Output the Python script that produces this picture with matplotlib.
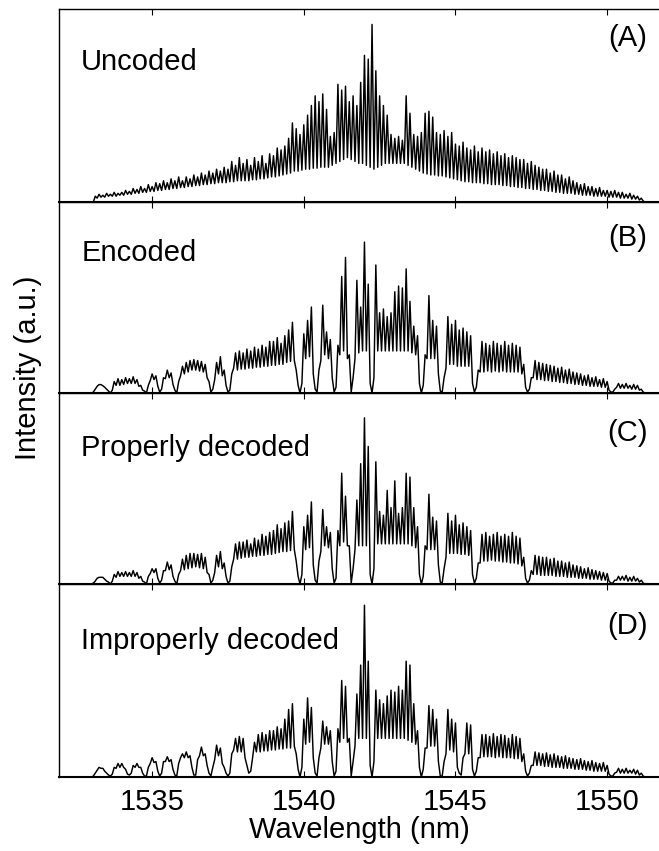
#!/usr/bin/env python3

import matplotlib
matplotlib.use("Agg")
import matplotlib.pyplot as plt
import numpy as np

plt.rcParams["font.family"] = ["Liberation Sans", "DejaVu Sans"]

# comb lines of the spectrum: first line and line spacing (nm)
COMB_START = 1533.0
COMB_STEP = 0.125

XLIM = (1531.93, 1551.71)
XTICKS = [1535, 1540, 1545, 1550]

# every list: one value per comb line (8 per nm), starting at 1533.0 nm
# *_peaks = top of the line, *_floors = level between this line and the next

# (A) uncoded
uncoded_peaks = [
    0, 3, 4, 3.5, 4.5, 4, 5, 4.5,          # 1533
    5, 6, 5.5, 7, 6.5, 8, 7, 9,            # 1534
    8, 10, 9.5, 11, 10, 12, 11, 13,        # 1535
    11, 13, 12, 14, 13, 15, 14, 16,        # 1536
    15, 17, 16, 18, 17, 21, 19, 23,        # 1537
    20, 22, 19, 23, 21, 24, 20, 25,        # 1538
    24, 28, 27, 29, 33, 41, 38, 35,        # 1539
    40, 45, 50, 55, 52, 56, 48, 34,        # 1540
    36, 61, 58, 60, 52, 55, 50, 62,        # 1541
    76, 74, 92, 68, 55, 50, 45, 35,        # 1542
    33, 34, 32, 55, 46, 35, 34, 36,        # 1543
    46, 47, 44, 36, 35, 37, 34, 36,        # 1544
    30, 29, 31, 28, 27, 29, 26, 28,        # 1545
    26, 27, 25, 26, 24, 25, 23, 24,        # 1546
    23, 22, 22, 20, 21, 19, 18, 17,        # 1547
    17, 15, 16, 14, 14, 12, 13, 11,        # 1548
    10, 9, 9.5, 8, 8, 7, 7.5, 6,           # 1549
    6, 5.5, 6, 5, 5, 4, 4.5, 3.5,          # 1550
    3, 2, 0, 0,                            # 1551
]
uncoded_floors = [
    0, 2, 2.5, 2.5, 3, 3, 3, 3.5,
    3.5, 4, 4, 4.5, 4.5, 5, 5, 5.5,
    5.5, 6, 6, 6.5, 6.5, 7, 7, 7.5,
    7.5, 8, 8, 8.5, 8.5, 9, 9, 9.5,
    9.5, 10, 10, 10, 10.5, 10.5, 11, 11,
    11, 11, 11.5, 11.5, 12, 12, 12.5, 13,
    13, 13.5, 14, 14.5, 15, 16, 16, 16.5,
    17, 17, 17.5, 17.5, 18, 18, 18, 19,
    20, 21, 22, 23, 22, 21, 20, 20,
    19, 18, 17, 18, 19, 20, 20, 20,
    20, 20, 20, 19, 18, 17, 16, 15,
    14.5, 14, 14, 13.5, 13.5, 13, 12.5, 12,
    11.5, 11, 10.5, 10.5, 10, 10, 10, 9.5,
    9.5, 9, 9, 9, 8.5, 8.5, 8, 8,
    7.5, 7.5, 7, 7, 6.5, 6.5, 6, 6,
    5.5, 5.5, 5, 5, 4.5, 4.5, 4.5, 4,
    4, 3.5, 3.5, 3.5, 3, 3, 3, 3,
    2.5, 2.5, 2.5, 2, 2, 2, 1.5, 1.5,
    1, 0.5, 0, 0,
]

# (B) encoded
encoded_peaks = [
    0, 2, 4.4, 3.8, 2, 0, 6, 7.5,
    7, 8, 7.5, 8.5, 7, 4, 1, 4,
    10, 9, 0.5, 8, 12, 10.5, 1.5, 6,
    14, 16, 17, 17.5, 17, 16.5, 15, 6,
    2, 16, 19, 12, 0.5, 10, 21, 22,
    21, 23, 22, 24, 23, 25, 24, 27,
    27, 29, 26, 30, 33, 37, 12, 0,
    31, 38, 45, 2, 12, 46, 32, 28,
    0.5, 25, 61, 71, 20, 8, 59, 45,
    79, 57, 0, 67, 42, 44, 40, 42,
    53, 56, 55, 65, 48, 35, 30, 0,
    20, 51, 38, 35, 1, 8, 40, 36,
    38, 33, 34, 32, 30, 0.5, 12, 27,
    26, 25, 27, 26, 25, 27, 25, 26,
    25, 24, 15, 0.5, 8, 17, 16, 15.5,
    15, 14.5, 14, 13, 13.5, 12, 12.5, 11,
    10.5, 10, 9, 9.5, 8, 8.5, 7, 7.5,
    6, 0.5, 2, 5, 4.5, 5, 4, 4.5,
    4, 2, 0, 0,
]
encoded_floors = [
    0.5, 3.5, 4.4, 3, 1, 1.5, 4, 4,
    4.5, 5, 5, 5, 3.5, 1.5, 0, 6.5,
    7, 3.5, 2, 7.5, 8, 4.5, 0, 9,
    10, 11, 12, 12, 11.5, 11, 8, 0.5,
    7, 10, 9, 4, 1.5, 13, 12, 12.5,
    12.5, 13, 13, 13.5, 13.5, 14, 14, 14.5,
    14.5, 15, 15, 16, 16.5, 17, 4, 5,
    18, 19, 10, 0.5, 17, 20, 18, 8,
    3, 20, 22, 18, 0.5, 18, 21, 22,
    22, 5, 8, 22, 22, 22, 22, 22,
    22, 22, 22, 22, 21, 20, 5, 4,
    18, 18, 18, 10, 0.5, 13, 15, 15,
    14, 14, 14, 14, 5, 3, 11, 11,
    11.5, 11, 11.5, 11, 11.5, 11, 11, 11,
    11, 10, 3, 2, 8, 7, 7, 6.5,
    6.5, 6, 6, 5.5, 5.5, 5, 5, 4.5,
    4.5, 4, 4, 3.5, 3.5, 3.5, 3, 3,
    1.5, 0.5, 3, 2.5, 2.5, 2.5, 2, 2,
    1.5, 0.5, 0, 0,
]

# (C) properly decoded
proper_peaks = [
    0, 1.5, 3.5, 3.5, 1.5, 0, 5, 6.5,
    6, 6.5, 6, 7, 6, 4, 1, 4,
    8, 8, 0.5, 7, 11.5, 10, 1.5, 5,
    13, 15, 16, 16, 15.5, 16, 14, 5,
    2, 15, 17, 11, 0.5, 9, 21, 22,
    22, 23, 21, 24, 23, 26, 25, 27,
    28, 31, 29, 32, 33, 38, 12, 0,
    30, 36, 43, 2, 12, 39, 30, 27,
    0.5, 28, 58, 46, 20, 8, 44, 63,
    87, 72, 0, 64, 38, 36, 49, 40,
    54, 37, 40, 58, 56, 40, 30, 0,
    20, 47, 35, 33, 1, 8, 37, 33,
    36, 31, 32, 30, 28, 0.5, 11, 26,
    27, 25, 26, 27, 25, 26, 25, 27,
    25, 24, 14, 0.5, 7, 15, 14.5, 14,
    14, 13, 13.5, 12, 12, 11, 11.5, 10,
    9.5, 9, 8, 8.5, 7.5, 7, 6.5, 6,
    5.5, 0.5, 2, 4, 4, 4.5, 3.5, 4,
    3, 2, 0, 0,
]
proper_floors = [
    0.5, 3, 3.5, 2.5, 1, 1.5, 3.5, 4,
    4, 4, 4, 4, 3, 1.5, 0, 5.5,
    6, 3, 2, 7, 7.5, 4, 0, 7,
    7.5, 8, 8.5, 9, 8.5, 8, 6, 0.5,
    6, 9, 8, 4, 1.5, 13, 13, 13.5,
    14, 14, 14.5, 14.5, 15, 15, 15.5, 15.5,
    16, 16.5, 17, 17, 17.5, 18, 4, 5,
    18, 19, 10, 0.5, 17, 20, 19, 8,
    3, 20, 22, 20, 0.5, 18, 20, 20,
    20, 5, 8, 21, 21, 21, 21, 21,
    21, 21, 21, 21, 20, 19, 5, 4,
    18, 18, 18, 10, 0.5, 14, 16, 16,
    16, 15.5, 15.5, 15, 5, 3, 11, 12,
    12, 12.5, 12, 12, 11.5, 11.5, 11, 11,
    10.5, 9.5, 3, 2, 5, 5, 4.5, 4.5,
    4.5, 4.5, 4, 4, 4, 3.5, 3.5, 3.5,
    3, 3, 3, 2.5, 2.5, 2.5, 2, 2,
    1.5, 0.5, 2, 2, 2, 1.5, 1.5, 1.5,
    1, 0.5, 0, 0,
]

# (D) improperly decoded
improper_peaks = [
    0, 2, 5, 4.5, 2, 0.5, 5, 7,
    7, 4, 1, 6, 7, 5, 0.5, 5,
    10, 8, 0.5, 8, 10.5, 9, 1, 7,
    12, 13, 11, 1, 9, 15.5, 12, 2,
    5, 16.5, 15, 5, 0.5, 12, 20, 21,
    20, 6, 3, 18, 22, 23, 22, 24,
    24, 26, 25, 30, 35, 38, 12, 0,
    30, 41, 36, 2, 10, 29, 26, 24,
    0.5, 25, 50, 47, 20, 8, 43, 58,
    89, 60, 0, 45, 40, 38, 42, 45,
    44, 47, 45, 60, 58, 38, 24, 0,
    15, 37, 35, 30, 0.5, 8, 35, 30,
    28, 2, 10, 28, 27, 0.5, 10, 22,
    22, 21, 22.5, 21, 22, 21.5, 20, 22,
    21, 20, 12, 0.5, 6, 13, 12.5, 12,
    12.5, 11.5, 12, 11, 10.5, 11, 10, 9.5,
    9, 9.5, 8.5, 8, 8.5, 7.5, 7, 7.5,
    6, 0.5, 2, 4.5, 4, 4.5, 3.5, 4,
    3.5, 2, 0, 0,
]
improper_floors = [
    0.5, 3.5, 4.5, 3, 1, 1.5, 4.5, 5,
    5, 1.5, 2, 5, 5, 2, 0.5, 7,
    7.5, 3, 2, 8, 8, 4, 0.5, 10,
    10, 10, 5, 1, 11, 11, 6, 0.5,
    9, 11, 7, 2, 2, 14, 13, 13,
    10, 2, 10, 13, 13, 13.5, 13.5, 14,
    14, 14.5, 14.5, 15, 15, 16, 4, 5,
    17, 18, 10, 0.5, 15, 17, 17, 8,
    3, 18, 20, 18, 0.5, 16, 20, 20,
    20, 6, 8, 20, 20, 20, 20, 20,
    20, 20, 20, 19, 18, 17, 5, 4,
    15, 16, 16, 8, 0.5, 12, 14, 13,
    5, 1, 12, 12, 4, 3, 10, 10.5,
    10.5, 10.5, 10, 10.5, 10, 10, 10, 9.5,
    9.5, 8, 3, 2, 6, 6, 6, 5.5,
    5.5, 5, 5, 5, 4.5, 4.5, 4.5, 4,
    4, 4, 3.5, 3.5, 3, 3, 3, 3,
    1.5, 0.5, 2.5, 2, 2, 2, 2, 1.5,
    1, 0.5, 0, 0,
]

panel_names = ["Uncoded", "Encoded", "Properly decoded", "Improperly decoded"]
panel_tags = ["(A)", "(B)", "(C)", "(D)"]


def comb_trace(peaks, floors):
    peaks = np.asarray(peaks, dtype=float)
    floors = np.asarray(floors, dtype=float)
    wl = COMB_START + COMB_STEP * np.arange(len(peaks))
    x = np.empty(2 * len(wl))
    y = np.empty(2 * len(wl))
    x[0::2] = wl
    x[1::2] = wl + COMB_STEP / 2
    y[0::2] = peaks
    y[1::2] = floors
    # flat zero level out to the frame edges
    x = np.concatenate([[XLIM[0]], x, [XLIM[1]]])
    y = np.concatenate([[0.0], y, [0.0]])
    return x, y


def main():
    W, H = 659, 851
    fig = plt.figure(figsize=(W / 100, H / 100), dpi=100)

    # panel edges in pixels (top, bottom)
    edges = [(9, 202), (202, 393), (393, 584), (584, 777)]
    name_y = [0.725, 0.735, 0.71, 0.705]
    tag_y = [0.85, 0.81, 0.79, 0.78]

    series = [
        (uncoded_peaks, uncoded_floors),
        (encoded_peaks, encoded_floors),
        (proper_peaks, proper_floors),
        (improper_peaks, improper_floors),
    ]

    left = 59 / W
    for i, ((top, bot), (pk, fl)) in enumerate(zip(edges, series)):
        ax = fig.add_axes([left, 1 - bot / H, 1 - left, (bot - top) / H])
        x, y = comb_trace(pk, fl)
        ax.plot(x, y, color="black", linewidth=1.05)

        ax.set_xlim(*XLIM)
        ax.set_ylim(0, 100)
        ax.set_yticks([])
        ax.set_xticks(XTICKS)
        ax.tick_params(axis="x", direction="in", top=True, length=4,
                       width=0.8, labelsize=21, pad=8,
                       labelbottom=(i == len(edges) - 1))
        ax.spines["right"].set_visible(False)
        for s in ("left", "top"):
            ax.spines[s].set_linewidth(1.0)
        ax.spines["bottom"].set_linewidth(1.5)
        ax.patch.set_alpha(0)

        ax.text(0.037, name_y[i], panel_names[i], transform=ax.transAxes,
                fontsize=21, ha="left", va="center")
        ax.text(0.981, tag_y[i], panel_tags[i], transform=ax.transAxes,
                fontsize=21, ha="right", va="center")

    fig.text(28 / W, 1 - 368 / H, "Intensity (a.u.)", rotation=90,
             fontsize=21, ha="center", va="center")
    fig.text((59 + 659) / 2 / W, 1 - 830 / H, "Wavelength (nm)",
             fontsize=21, ha="center", va="center")

    fig.savefig("out.png", dpi=100)


if __name__ == "__main__":
    main()
